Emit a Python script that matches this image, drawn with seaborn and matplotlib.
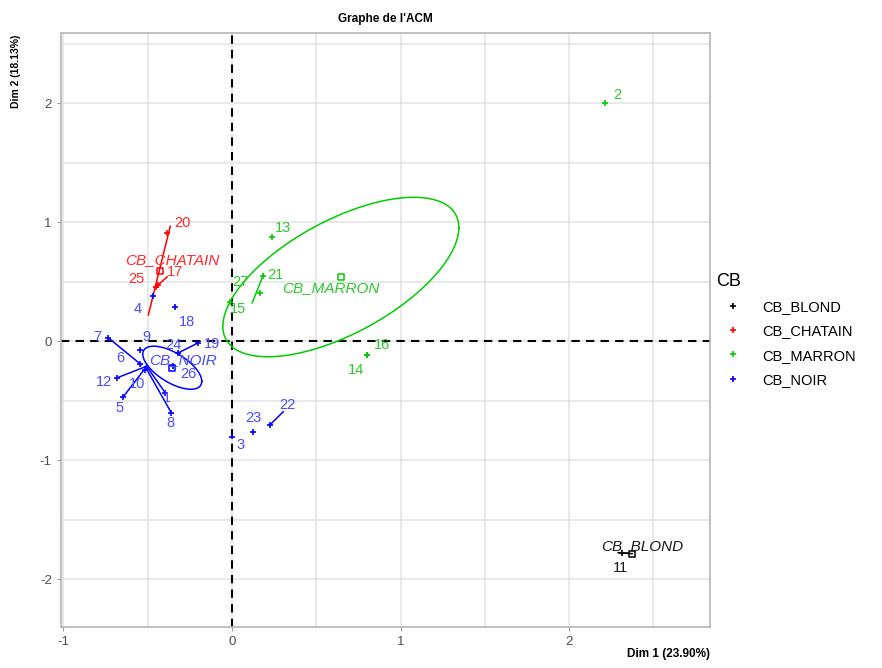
import numpy as np
import pandas as pd
import matplotlib
matplotlib.use("Agg")
import matplotlib.pyplot as plt
from matplotlib.lines import Line2D
import seaborn as sns

# Modalities of the supplementary variable CB
groups = ["CB_BLOND", "CB_CHATAIN", "CB_MARRON", "CB_NOIR"]
group_colors = ["#000000", "#FF0000", "#00CC00", "#0000FF"]
text_colors = ["#1A1A1A", "#FF2A2A", "#2DC82D", "#4B4BFF"]

# Individual coordinates on Dim 1 / Dim 2
ind_id = ["1", "2", "3", "4", "5", "6", "7", "8", "9", "10", "11", "12", "13", "14",
          "15", "16", "17", "18", "19", "20", "21", "22", "23", "24", "25", "26", "27"]
ind_group = ["CB_NOIR", "CB_MARRON", "CB_NOIR", "CB_NOIR", "CB_NOIR", "CB_NOIR", "CB_NOIR",
             "CB_NOIR", "CB_NOIR", "CB_NOIR", "CB_BLOND", "CB_NOIR", "CB_MARRON", "CB_MARRON",
             "CB_MARRON", "CB_MARRON", "CB_CHATAIN", "CB_NOIR", "CB_NOIR", "CB_CHATAIN",
             "CB_MARRON", "CB_NOIR", "CB_NOIR", "CB_NOIR", "CB_CHATAIN", "CB_NOIR", "CB_MARRON"]
ind_x = [-0.396, 2.215, 0.000, -0.467, -0.645, -0.544, -0.733, -0.360, -0.544, -0.514, 2.315,
         -0.680, 0.239, 0.800, -0.010, 0.800, -0.437, -0.336, -0.200, -0.384, 0.185, 0.227,
         0.126, -0.318, -0.448, -0.347, 0.168]
ind_y = [-0.432, 2.000, -0.800, 0.382, -0.466, -0.189, 0.029, -0.600, -0.071, -0.240, -1.776,
         -0.306, 0.877, -0.113, 0.330, -0.113, 0.475, 0.290, -0.013, 0.911, 0.550, -0.700,
         -0.760, -0.097, 0.458, -0.206, 0.407]
# Positions of the individual labels (repelled)
lab_x = [-0.384, 2.285, 0.049, -0.561, -0.668, -0.663, -0.800, -0.366, -0.508, -0.562, 2.303,
         -0.757, 0.304, 0.737, 0.037, 0.891, -0.340, -0.265, -0.117, -0.295, 0.257, 0.328,
         0.126, -0.345, -0.567, -0.260, 0.049]
lab_y = [-0.475, 2.069, -0.869, 0.273, -0.559, -0.139, 0.038, -0.684, 0.038, -0.357, -1.902,
         -0.340, 0.953, -0.239, 0.273, -0.029, 0.580, 0.164, -0.021, 0.995, 0.558, -0.533,
         -0.642, -0.030, 0.525, -0.273, 0.500]

# Modality barycentres and their label positions
cat_x = [2.374, -0.425, 0.649, -0.354]
cat_y = [-1.784, 0.592, 0.542, -0.222]
cat_lab_x = [2.432, -0.354, 0.589, -0.289]
cat_lab_y = [-1.717, 0.684, 0.449, -0.160]

# Link segments between individuals of a same modality
seg_group = ["CB_NOIR"] * 7 + ["CB_CHATAIN"] * 2 + ["CB_MARRON", "CB_BLOND"]
seg_x0 = [-0.733, -0.680, -0.645, -0.360, -0.396, -0.200, 0.227, -0.366, -0.384, 0.187, 2.291]
seg_y0 = [0.029, -0.306, -0.466, -0.600, -0.432, -0.013, -0.700, 0.966, 0.542, 0.560, -1.776]
seg_x1 = [-0.538, -0.514, -0.526, -0.514, -0.508, -0.318, 0.304, -0.496, -0.437, 0.120, 2.374]
seg_y1 = [-0.197, -0.214, -0.248, -0.214, -0.206, -0.097, -0.592, 0.222, 0.475, 0.323, -1.784]

# Confidence ellipses: centre, spreads and correlation
ell_group = ["CB_MARRON", "CB_NOIR"]
ell_cx = [0.646, -0.354]
ell_cy = [0.540, -0.222]
ell_sx = [0.700, 0.175]
ell_sy = [0.670, 0.181]
ell_r = [0.618, -0.630]

x_ticks = [-1, 0, 1, 2]
y_ticks = [-2, -1, 0, 1, 2]

pal = dict(zip(groups, group_colors))
tpal = dict(zip(groups, text_colors))

ind = pd.DataFrame({"id": ind_id, "CB": ind_group, "x": ind_x, "y": ind_y,
                    "lx": lab_x, "ly": lab_y})
cats = pd.DataFrame({"CB": groups, "x": cat_x, "y": cat_y, "lx": cat_lab_x, "ly": cat_lab_y})

plt.rcParams["font.family"] = ["Liberation Sans", "DejaVu Sans"]
plt.rcParams["axes.unicode_minus"] = False
fig = plt.figure(figsize=(8.82, 6.68), dpi=100)
ax = fig.add_axes([0.069, 0.0614, 0.736, 0.8892])

ax.set_xlim(-1.015, 2.836)
ax.set_ylim(-2.40, 2.59)

# Grid (major + half-unit minor), panel border
ax.set_xticks(x_ticks)
ax.set_yticks(y_ticks)
ax.set_xticks(np.arange(-0.5, 3.0, 1.0), minor=True)
ax.set_yticks(np.arange(-1.5, 3.0, 1.0), minor=True)
ax.grid(True, which="both", color="#E3E3E3", linewidth=1.1, zorder=0)
ax.set_axisbelow(True)
for s in ax.spines.values():
    s.set_color("#B5B5B5")
    s.set_linewidth(1.2)
ax.tick_params(which="major", length=3, color="#A0A0A0", labelsize=9.5, labelcolor="#4D4D4D")
ax.tick_params(which="minor", length=0)

# Origin axes
ax.axhline(0, color="black", linestyle=(0, (4, 3)), linewidth=1.5, zorder=1)
ax.axvline(0, color="black", linestyle=(0, (4, 3)), linewidth=1.5, zorder=1)

# Ellipses
t = np.linspace(0, 2 * np.pi, 200)
for g, cx, cy, sx, sy, r in zip(ell_group, ell_cx, ell_cy, ell_sx, ell_sy, ell_r):
    ex = cx + sx * np.cos(t)
    ey = cy + r * sy * np.cos(t) + sy * np.sqrt(1 - r ** 2) * np.sin(t)
    ax.plot(ex, ey, color=pal[g], linewidth=1.1, zorder=2)

# Segments
for g, x0, y0, x1, y1 in zip(seg_group, seg_x0, seg_y0, seg_x1, seg_y1):
    ax.plot([x0, x1], [y0, y1], color=pal[g], linewidth=1.1, zorder=2)

# Individuals
sns.scatterplot(data=ind, x="x", y="y", hue="CB", palette=pal, hue_order=groups,
                marker="+", s=18, linewidth=1.2, legend=False, ax=ax, zorder=3)
for _, row in ind.iterrows():
    ax.text(row.lx, row.ly, row.id, color=tpal[row.CB], fontsize=10.5,
            ha="center", va="center", zorder=4)

# Modality barycentres
sns.scatterplot(data=cats, x="x", y="y", hue="CB", palette=pal, hue_order=groups,
                marker="s", s=20, legend=False, ax=ax, zorder=3)
coll = ax.collections[-1]
coll.set_facecolor("none")
coll.set_edgecolor([pal[g] for g in cats.CB])
coll.set_linewidth(1.1)
for _, row in cats.iterrows():
    ax.text(row.lx, row.ly, row.CB, color=tpal[row.CB], fontsize=11, style="italic",
            ha="center", va="center", zorder=4)

ax.set_xlabel("")
ax.set_ylabel("")
ax.set_title("Graphe de l'ACM", fontsize=8.5, fontweight="bold", pad=8)
fig.text(0.805, 0.012, "Dim 1 (23.90%)", ha="right", va="bottom", fontsize=8.5,
         fontweight="bold")
fig.text(0.018, 0.948, "Dim 2 (18.13%)", ha="center", va="top", rotation=90,
         fontsize=7.5, fontweight="bold")

handles = [Line2D([], [], linestyle="none", marker="+", markersize=5, markeredgewidth=1.2,
                  color=c) for c in group_colors]
leg = fig.legend(handles, groups, title="CB", loc="upper left",
                 bbox_to_anchor=(0.797, 0.611), frameon=False, fontsize=10.5,
                 title_fontsize=13, handlelength=2.35, handletextpad=0.8,
                 labelspacing=0.7, alignment="left")

fig.savefig("out.png", dpi=100)
